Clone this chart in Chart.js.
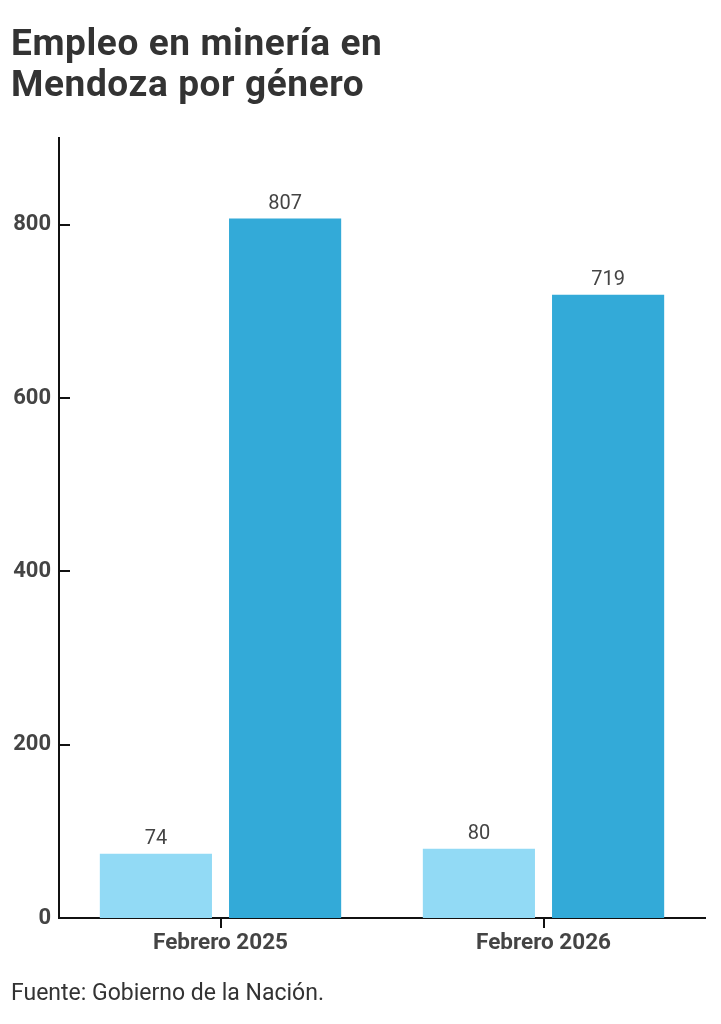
<!DOCTYPE html>
<html><head><meta charset="utf-8">
<script src="https://cdn.jsdelivr.net/npm/chart.js@4"></script>
<style>
html,body{margin:0;padding:0;background:#fff;width:721px;height:1024px;overflow:hidden;}
#wrap{position:absolute;left:0;top:0;width:721px;height:1024px;}
#title{position:absolute;left:11px;top:22px;font:700 37px Roboto;letter-spacing:0.6px;color:#333;line-height:41px;margin:0;z-index:2}
#foot{position:absolute;left:11px;top:979px;font:400 23px Roboto;color:#333}
</style></head><body>
<div id="wrap"><canvas id="c" width="721" height="1024"></canvas></div>
<h1 id="title">Empleo en minería en<br>Mendoza por género</h1>
<div id="foot">Fuente: Gobierno de la Nación.</div>
<script>
const categories = ['Febrero 2025', 'Febrero 2026'];
const mujeres = [74, 80];
const varones = [807, 719];
const yTicks = [0, 200, 400, 600, 800];
const yMax = 900;

const deco = {
  id: 'deco',
  afterDatasetsDraw(chart) {
    const ctx = chart.ctx, y = chart.scales.y, x0 = chart.chartArea.left;
    ctx.save();
    ctx.strokeStyle = '#111'; ctx.lineWidth = 2;
    y.ticks.forEach(t => {
      if (t.value === 0) return;
      const py = Math.round(y.getPixelForValue(t.value));
      ctx.beginPath(); ctx.moveTo(x0, py); ctx.lineTo(x0 + 11, py); ctx.stroke();
    });
    ctx.font = '400 20px Roboto'; ctx.fillStyle = '#444';
    ctx.textAlign = 'center'; ctx.textBaseline = 'bottom';
    chart.data.datasets.forEach((ds, i) => {
      chart.getDatasetMeta(i).data.forEach((bar, j) => {
        ctx.fillText(String(ds.data[j]), bar.x, bar.y - 5);
      });
    });
    ctx.restore();
  }
};

new Chart(document.getElementById('c'), {
  type: 'bar',
  data: {
    labels: categories,
    datasets: [
      { label: 'Mujeres', data: mujeres, backgroundColor: '#92daf5' },
      { label: 'Varones', data: varones, backgroundColor: '#33aad8' }
    ]
  },
  options: {
    responsive: false,
    animation: false,
    devicePixelRatio: 1,
    layout: { padding: { top: 138, right: 16, left: 0, bottom: 0 } },
    datasets: { bar: { categoryPercentage: 0.8, barPercentage: 0.868 } },
    plugins: { legend: { display: false }, tooltip: { enabled: false } },
    scales: {
      x: {
        afterFit: s => { s.height = 106; },
        grid: { display: true, offset: false, drawOnChartArea: false, drawTicks: true, tickLength: 10, color: '#111', lineWidth: 2 },
        border: { display: true, color: '#111', width: 2 },
        ticks: { color: '#444', font: { family: 'Roboto', size: 22.5, weight: '700' }, padding: 2 }
      },
      y: {
        min: 0, max: yMax,
        afterFit: s => { s.width = 59; },
        afterBuildTicks: s => { s.ticks = yTicks.map(v => ({ value: v })); },
        grid: { display: false, drawTicks: false },
        border: { display: true, color: '#111', width: 2 },
        ticks: { color: '#444', font: { family: 'Roboto', size: 22, weight: '700' }, padding: 8 }
      }
    }
  },
  plugins: [deco]
});
</script>
</body></html>
